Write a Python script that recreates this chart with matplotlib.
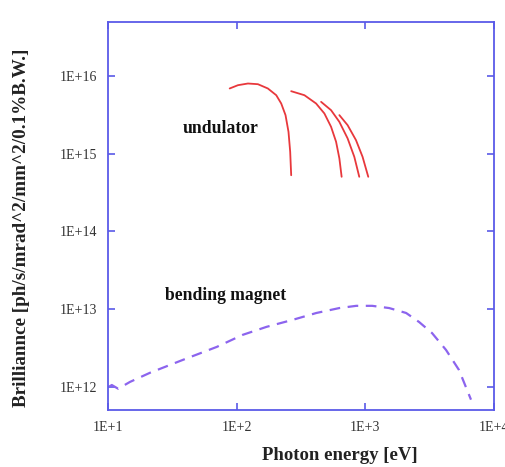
import matplotlib
matplotlib.use("Agg")
import matplotlib.pyplot as plt

plt.rcParams['font.family'] = ['Liberation Serif', 'DejaVu Serif']

# Undulator curves (photon energy eV, brilliance)
und1_e = [88.3, 102.4, 122.4, 146.3, 174.8, 203.2, 222.1, 239.9, 253, 260.8, 265.5]
und1_b = [6.95e15, 7.66e15, 8.05e15, 7.89e15, 6.95e15, 5.69e15, 4.45e15, 3.15e15, 1.92e15, 1.06e15, 5.3e14]
und2_e = [265.5, 336.5, 414.6, 481, 542, 593, 629, 655]
und2_b = [6.41e15, 5.69e15, 4.45e15, 3.31e15, 2.23e15, 1.43e15, 8.73e14, 5.06e14]
und3_e = [453.6, 542, 629, 729, 822, 898]
und3_b = [4.67e15, 3.65e15, 2.58e15, 1.58e15, 9.14e14, 5.06e14]
und4_e = [629, 729, 847, 953, 1055]
und4_b = [3.15e15, 2.34e15, 1.50e15, 9.14e14, 5.06e14]

# Bending magnet curve
bm_e = [10.2, 10.7, 12.0, 14.8, 21.2, 38.1, 70, 111, 171, 272, 417, 629, 851,
        1132, 1534, 2078, 2624, 3306, 4246, 5354, 6637]
bm_b = [1.0e12, 1.05e12, 9.4e11, 1.15e12, 1.51e12, 2.21e12, 3.25e12, 4.64e12,
        5.9e12, 7.25e12, 8.9e12, 1.03e13, 1.10e13, 1.10e13, 1.03e13, 8.9e12,
        6.8e12, 4.9e12, 2.97e12, 1.64e12, 6.8e11]

x_ticks = [1e1, 1e2, 1e3, 1e4]
x_tick_labels = ["1E+1", "1E+2", "1E+3", "1E+4"]
y_ticks = [1e12, 1e13, 1e14, 1e15, 1e16]
y_tick_labels = ["1E+12", "1E+13", "1E+14", "1E+15", "1E+16"]

fig = plt.figure(figsize=(5.05, 4.67), dpi=100)
ax = fig.add_axes([0.2139, 0.122, 0.978 - 0.2139, 0.953 - 0.122])

red = "#e8383c"
for e, b in [(und1_e, und1_b), (und2_e, und2_b), (und3_e, und3_b), (und4_e, und4_b)]:
    ax.plot(e, b, color=red, lw=1.3, solid_capstyle="round", solid_joinstyle="round")
ax.plot(bm_e, bm_b, color="#8c64ee", lw=1.6, ls=(0, (4.8, 3.4)))

ax.set_xscale("log")
ax.set_yscale("log")
ax.set_xlim(1e1, 1e4)
ax.set_ylim(5e11, 5e16)
ax.minorticks_off()
ax.set_xticks(x_ticks)
ax.set_xticklabels(x_tick_labels)
ax.set_yticks(y_ticks)
ax.set_yticklabels(y_tick_labels)

blue = "#5a5ae8"
for s in ax.spines.values():
    s.set_color(blue)
    s.set_linewidth(1.3)
ax.tick_params(which="both", direction="in", top=True, right=True, length=5,
               width=1.2, color=blue, labelsize=10, labelcolor="#333333", pad=8)

ax.set_xlabel("Photon energy [eV]", fontsize=13.5, fontweight="bold", color="#222222")
ax.xaxis.label.set_va("center")
ax.xaxis.set_label_coords(0.601, -0.116)
ax.set_ylabel("Brilliannce [ph/s/mrad^2/mm^2/0.1%B.W.]", fontsize=13.8, fontweight="bold",
              color="#222222")
ax.yaxis.label.set_va("center")
ax.yaxis.set_label_coords(-0.223, 0.469)

ax.text(75, 2.1e15, "undulator", fontsize=12.7, fontweight="bold", ha="center", va="center", color="#111111")
ax.text(82, 1.5e13, "bending magnet", fontsize=12.7, fontweight="bold", ha="center", va="center", color="#111111")

fig.savefig("out.png", dpi=100)
